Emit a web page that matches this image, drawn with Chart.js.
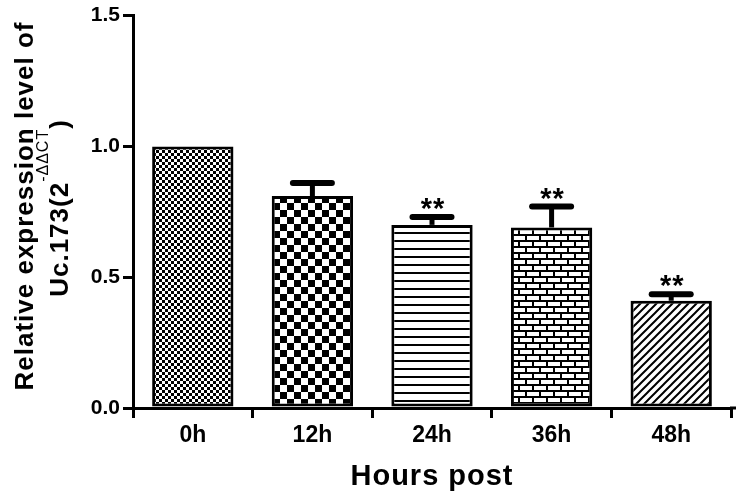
<!DOCTYPE html>
<html>
<head>
<meta charset="utf-8">
<script src="https://cdn.jsdelivr.net/npm/chart.js@4/dist/chart.umd.min.js"></script>
<style>
  html, body { margin: 0; padding: 0; background: #fff; }
  #wrap { width: 736px; height: 494px; position: relative; }
</style>
</head>
<body>
<div id="wrap"><canvas id="c" width="736" height="494"></canvas></div>
<script>
// ---- data ----
const categories = ['0h', '12h', '24h', '36h', '48h'];
const values = [1.00, 0.81, 0.70, 0.69, 0.41];
const errors = [0, 0.05, 0.03, 0.08, 0.025];
const marks = ['', '', '**', '**', '**'];
const yTicks = [0, 0.5, 1.0, 1.5];
const yTitleLine1 = 'Relative expression level of';
const yTitleMain = 'Uc.173(2';
const yTitleSup = '-\u0394\u0394CT';
const yTitleEnd = ')';
const xTitle = 'Hours post';

const FONT = '"Liberation Sans", Arial, Helvetica, sans-serif';

// ---- fill patterns ----
function makePattern(w, h, draw) {
  const cv = document.createElement('canvas');
  cv.width = w; cv.height = h;
  const g = cv.getContext('2d');
  g.fillStyle = '#fff'; g.fillRect(0, 0, w, h);
  g.fillStyle = '#000'; g.strokeStyle = '#000';
  draw(g);
  return document.getElementById('c').getContext('2d').createPattern(cv, 'repeat');
}
const patFineChecker = makePattern(6, 6, g => { g.fillRect(0, 0, 3, 3); g.fillRect(3, 3, 3, 3); });
const patChecker = makePattern(14, 14, g => { g.fillRect(0, 0, 7, 7); g.fillRect(7, 7, 7, 7); });
const patHLines = makePattern(8, 8, g => { g.fillRect(0, 0, 8, 2); });
const patBrick = makePattern(14, 12, g => {
  g.fillRect(0, 0, 14, 2); g.fillRect(0, 6, 14, 2);
  g.fillRect(0, 2, 2, 4); g.fillRect(7, 8, 2, 4);
});
const patDiag = makePattern(8, 8, g => {
  g.lineWidth = 2;
  g.beginPath();
  g.moveTo(-2, 10); g.lineTo(10, -2);
  g.moveTo(-6, 6); g.lineTo(6, -6);
  g.moveTo(2, 14); g.lineTo(14, 2);
  g.stroke();
});
const patterns = [patFineChecker, patChecker, patHLines, patBrick, patDiag];

// ---- error bars, significance marks, axis titles ----
const decor = {
  id: 'decor',
  afterDatasetsDraw(chart) {
    const ctx = chart.ctx;
    const meta = chart.getDatasetMeta(0);
    const ys = chart.scales.y;
    ctx.save();
    ctx.strokeStyle = '#000';
    ctx.fillStyle = '#000';
    meta.data.forEach((bar, i) => {
      const x = bar.x;
      const top = ys.getPixelForValue(values[i]);
      if (errors[i] > 0) {
        const ey = ys.getPixelForValue(values[i] + errors[i]);
        ctx.lineWidth = 5;
        ctx.lineCap = 'butt';
        ctx.beginPath(); ctx.moveTo(x, top); ctx.lineTo(x, ey); ctx.stroke();
        ctx.lineWidth = 6;
        ctx.lineCap = 'round';
        ctx.beginPath(); ctx.moveTo(x - 19.5, ey); ctx.lineTo(x + 19.5, ey); ctx.stroke();
      }
      if (marks[i]) {
        const ey = ys.getPixelForValue(values[i] + errors[i]);
        ctx.font = 'bold 29px ' + FONT;
        ctx.letterSpacing = '1px';
        ctx.textAlign = 'center';
        ctx.textBaseline = 'alphabetic';
        ctx.fillText(marks[i], x + 1, ey + 1);
      }
    });
    ctx.restore();
  },
  afterDraw(chart) {
    const ctx = chart.ctx;
    const area = chart.chartArea;
    const yb = chart.scales.y.getPixelForValue(0);
    ctx.save();
    // extend the x-axis line to the right edge, as in the reference
    ctx.fillStyle = '#000';
    ctx.fillRect(area.right - 1, Math.round(yb) - 1.5, chart.width - area.right + 1, 3);

    // y-axis title, two lines, rotated
    ctx.textBaseline = 'alphabetic';
    ctx.save();
    ctx.translate(33, 206);
    ctx.rotate(-Math.PI / 2);
    ctx.font = 'bold 26px ' + FONT;
    ctx.letterSpacing = '1px';
    ctx.textAlign = 'center';
    ctx.fillText(yTitleLine1, 0, 0);
    ctx.restore();

    ctx.save();
    ctx.translate(68, 208);
    ctx.rotate(-Math.PI / 2);
    ctx.textAlign = 'left';
    ctx.letterSpacing = '1px';
    ctx.font = 'bold 26px ' + FONT;
    const w1 = ctx.measureText(yTitleMain).width;
    const w3 = ctx.measureText(yTitleEnd).width;
    ctx.font = '16px ' + FONT;
    const w2 = ctx.measureText(yTitleSup).width;
    let sx = -(w1 + w2 + w3) / 2;
    ctx.font = 'bold 26px ' + FONT;
    ctx.fillText(yTitleMain, sx, 0);
    sx += w1;
    ctx.font = '16px ' + FONT;
    ctx.fillText(yTitleSup, sx, -20);
    sx += w2;
    ctx.font = 'bold 26px ' + FONT;
    ctx.fillText(yTitleEnd, sx, 0);
    ctx.restore();

    // x-axis title
    ctx.font = 'bold 29px ' + FONT;
    ctx.letterSpacing = '1px';
    ctx.textAlign = 'center';
    ctx.fillText(xTitle, (area.left + area.right) / 2, 485);
    ctx.restore();
  }
};

new Chart(document.getElementById('c'), {
  type: 'bar',
  data: {
    labels: categories,
    datasets: [{
      data: values,
      backgroundColor: patterns,
      borderColor: '#000',
      borderWidth: 3,
      borderSkipped: false,
      barPercentage: 0.68,
      categoryPercentage: 1.0
    }]
  },
  options: {
    responsive: false,
    animation: false,
    devicePixelRatio: 1,
    layout: { padding: { top: 12, right: 5, bottom: 0, left: 0 } },
    plugins: { legend: { display: false }, tooltip: { enabled: false } },
    scales: {
      x: {
        grid: { display: true, drawOnChartArea: false, drawTicks: true, tickLength: 10, color: '#000', lineWidth: 3, offset: true },
        border: { display: true, color: '#000', width: 3 },
        ticks: { color: '#000', font: { family: FONT, size: 23, weight: 'bold' }, padding: 4, maxRotation: 0 },
        afterFit(scale) { scale.height = 86; }
      },
      y: {
        min: 0, max: 1.5,
        afterBuildTicks(scale) { scale.ticks = yTicks.map(v => ({ value: v })); },
        grid: { display: true, drawOnChartArea: false, drawTicks: true, tickLength: 10, color: '#000', lineWidth: 3 },
        border: { display: true, color: '#000', width: 3 },
        ticks: { color: '#000', font: { family: FONT, size: 21, weight: 'bold' }, padding: 3, callback: v => Number(v).toFixed(1) },
        afterFit(scale) { scale.width = 133; }
      }
    }
  },
  plugins: [decor]
});
</script>
</body>
</html>
